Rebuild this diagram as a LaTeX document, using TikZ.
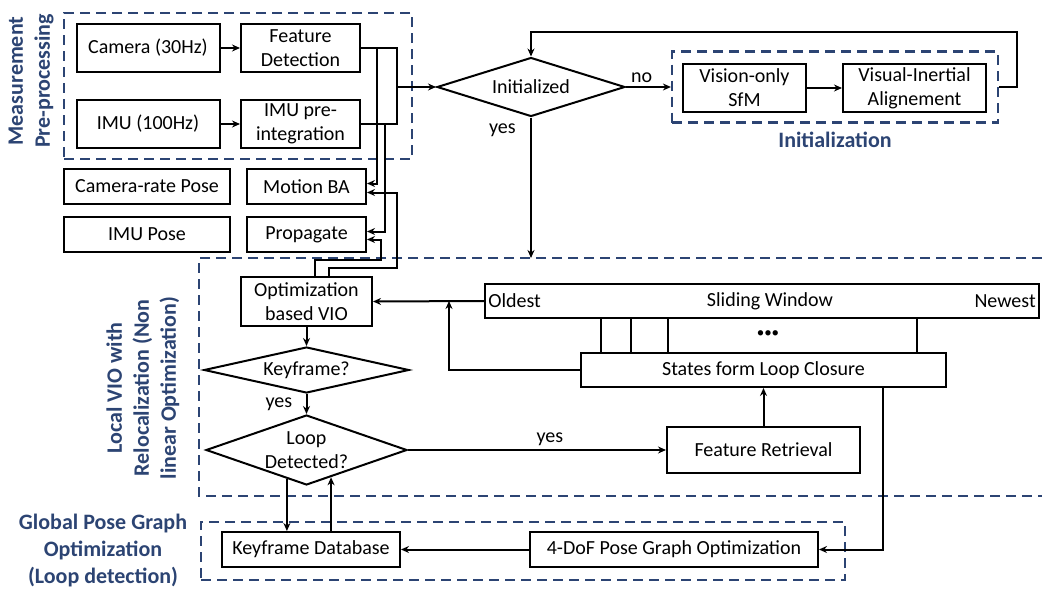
\documentclass[tikz,border=0pt]{standalone}
\usepackage{fontspec}
\setmainfont{Carlito}
\usetikzlibrary{shapes.geometric,arrows.meta}
\definecolor{groupblue}{RGB}{44,68,115}

\begin{document}
\begin{tikzpicture}[x=1pt, y=-1pt, line width=2pt,
    font=\fontsize{20}{24}\selectfont,
    box/.style 2 args={draw, minimum width=#1, minimum height=#2, inner sep=0pt, align=center},
    dec/.style 2 args={draw, diamond, minimum width=#1, minimum height=#2, inner sep=0pt},
    dashbox/.style={draw=groupblue, dash pattern=on 10pt off 6pt, line width=2.2pt, inner sep=0pt},
    grouplabel/.style={text=groupblue, font=\bfseries\fontsize{22}{27}\selectfont, align=center},
    arr/.style={-{Stealth[length=8pt,width=7pt]}}]

    \useasboundingbox (0,0) rectangle (1042,589);

    \node[dashbox, minimum width=348, minimum height=146] (msr) at (238,86) {};
    \node[dashbox, minimum width=326, minimum height=71] (initbox) at (835,87) {};
    \node[minimum width=841, minimum height=236, inner sep=0pt] (localbox) at (620.5,377) {};
    \draw[dashbox] (localbox.north east) -- (localbox.north west) -- (localbox.south west) -- (localbox.south east);
    \node[dashbox, minimum width=644, minimum height=58] (globalbox) at (523,551) {};

    \node[grouplabel, rotate=90] (msrlabel) at (31,81) {Measurement\\Pre-processing};
    \node[grouplabel] (initlabel) at (835,140) {Initialization};
    \node[grouplabel, rotate=90] (locallabel) at (143,388) {Local VIO with\\Relocalization (Non\\linear Optimization)};
    \node[grouplabel] (globallabel) at (103,551) {Global Pose Graph\\Optimization\\(Loop detection)};

    \node[box={143}{48}] (cam) at (148,48) {Camera (30Hz)};
    \node[box={119}{48}] (feat) at (300.5,48) {Feature\\Detection};
    \node[box={143}{48}] (imu) at (148,124) {IMU (100Hz)};
    \node[box={119}{48}] (preint) at (300.5,124) {IMU pre-\\integration};
    \node[box={166}{35}] (campose) at (147,186.5) {Camera-rate Pose};
    \node[box={119}{35}] (mba) at (306.5,186.5) {Motion BA};
    \node[box={166}{35}] (imupose) at (147,234.5) {IMU Pose};
    \node[box={119}{35}] (prop) at (306.5,234.5) {Propagate};

    \node[dec={188}{59}] (init) at (531,87) {};
    \node (initt) at (init) {Initialized};
    \node[box={123}{48}] (sfm) at (744.5,88) {Vision-only\\SfM};
    \node[box={143}{48}] (via) at (914.5,88) {Visual-Inertial\\Alignement};

    \node[box={131}{49}] (vio) at (306.5,301.5) {Optimization\\based VIO};
    \node[box={554}{34},
          label={[anchor=west]west:Oldest},
          label={[anchor=east]east:Newest}] (sw) at (762,301) {\hspace*{16pt}Sliding Window};
    \node[box={365}{34}] (loopst) at (763.5,370) {States form Loop Closure};
    \node[font=\fontsize{15}{15}\selectfont] (dots) at (768,334) {\textbullet\textbullet\textbullet};
    \node[dec={205}{46}] (kf) at (306.5,370) {};
    \node (kft) at (kf) {Keyframe?};
    \node[dec={201}{70}] (loopdet) at (306.5,450) {};
    \node[align=center] (loopdett) at (loopdet) {Loop\\Detected?};
    \node[box={193}{46}] (fret) at (763.5,450) {Feature Retrieval};

    \node[box={178}{35}] (kfdb) at (311,549.5) {Keyframe Database};
    \node[box={288}{35}] (pgo) at (674,549.5) {4-DoF Pose Graph Optimization};

    \coordinate (busR) at (397,87);
    \coordinate (tapF) at (377,48);
    \coordinate (tapI) at (385,124);
    \coordinate (bendA) at (381,260);
    \coordinate (bendB) at (397,268);
    \coordinate (loopTR) at (1017,32);
    \coordinate (joinL) at (449,301);

    \draw[arr] (cam) -- (feat);
    \draw[arr] (imu) -- (preint);
    \draw (feat.east) -| (busR) |- (preint.east);
    \draw[arr] (busR) -- (init.west);
    \draw[arr] (tapF) |- ([yshift=3pt]mba.east);
    \draw[arr] (tapI) |- ([yshift=3pt]prop.east);
    \draw[arr] ([xshift=22.5pt]vio.north) |- (bendB) |- ([yshift=-6pt]mba.east);
    \draw[arr] ([xshift=8.5pt]vio.north) |- (bendA) |- ([yshift=-5pt]prop.east);

    \draw[arr] (init.east) -- node[pos=0.35, above] {no} (initbox.west);
    \draw[arr] (sfm) -- (via);
    \draw[arr] (initbox.east) -| (loopTR) -| (init.north);
    \draw[arr] (init.south) -- node[pos=0.09, left=11pt] {yes} (init.south |- localbox.north);

    \draw[arr] (sw.west) -- (vio.east);
    \draw[arr] (loopst.west) -| (joinL);
    \foreach \x in {601,631,668,917}
        \draw (sw.south -| \x,0) -- (loopst.north -| \x,0);
    \draw[arr] (vio.south) -- (kf.north);
    \draw[arr] (kf.south) -- node[left=10pt] {yes} (loopdet.north);
    \draw[arr] (loopdet.east) -- node[pos=0.55, above] {yes} (fret.west);
    \draw[arr] (fret.north) -- (loopst.south);
    \draw[arr] (loopst.south -| 883,0) |- (pgo.east);
    \draw[arr] (pgo.west) -- (kfdb.east);
    \draw[arr] (loopdet.236) -- (loopdet.236 |- kfdb.north);
    \draw[arr] (kfdb.north -| loopdet.312) -- (loopdet.312);
\end{tikzpicture}
\end{document}
